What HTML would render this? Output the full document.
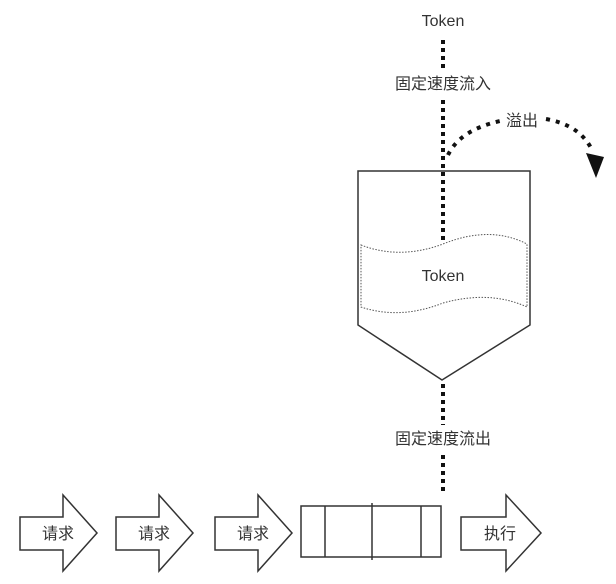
<!DOCTYPE html>
<html><head><meta charset="utf-8"><style>
body{margin:0;background:#fff;}
svg{display:block;}
text{font-family:"Liberation Sans","Noto Sans CJK SC",sans-serif;fill:#333;font-size:16px;}
</style></head><body>
<svg width="616" height="584" viewBox="0 0 616 584">
<rect width="616" height="584" fill="#fff"/>
<text x="443" y="26" text-anchor="middle" font-size="17">Token</text>
<line x1="443" y1="40" x2="443" y2="68" stroke="#111" stroke-width="4" stroke-dasharray="4,4"/>
<text x="443" y="89" text-anchor="middle" font-size="16">固定速度流入</text>
<line x1="443" y1="100" x2="443" y2="243" stroke="#111" stroke-width="4" stroke-dasharray="4,4"/>
<path d="M448 155 Q460 130 500 121" fill="none" stroke="#111" stroke-width="4" stroke-dasharray="4,6"/>
<text x="522" y="126" text-anchor="middle" font-size="16">溢出</text>
<path d="M546 119 Q580 125 592 150" fill="none" stroke="#111" stroke-width="4" stroke-dasharray="4,6"/>
<polygon points="586,153 604,157 596,178" fill="#111"/>
<polygon points="358,171 530,171 530,325 442,380 358,325" fill="none" stroke="#333" stroke-width="1.5"/>
<path d="M361 245 Q400 260 443 244 Q490 225 527 244 L527 307 Q490 290 443 303 Q400 320 361 307 Z" fill="none" stroke="#555" stroke-width="1" stroke-dasharray="1.5,1.5"/>
<text x="443" y="281" text-anchor="middle" font-size="17">Token</text>
<line x1="443" y1="384" x2="443" y2="425" stroke="#111" stroke-width="4" stroke-dasharray="4,4"/>
<text x="443" y="444" text-anchor="middle" font-size="16">固定速度流出</text>
<line x1="443" y1="455" x2="443" y2="494" stroke="#111" stroke-width="4" stroke-dasharray="4,4"/>
<g fill="none" stroke="#333" stroke-width="1.5">
<polygon points="20,517 63,517 63,495 97,533 63,571 63,550 20,550"/>
<polygon points="116,517 159,517 159,495 193,533 159,571 159,550 116,550"/>
<polygon points="215,517 258,517 258,495 292,533 258,571 258,550 215,550"/>
<polygon points="461,517 506,517 506,495 541,533 506,571 506,550 461,550"/>
<rect x="301" y="506" width="140" height="51"/>
<line x1="325" y1="506" x2="325" y2="557"/>
<line x1="372" y1="503" x2="372" y2="560"/>
<line x1="421" y1="506" x2="421" y2="557"/>
</g>
<text x="58" y="539" text-anchor="middle" font-size="17">请求</text>
<text x="154" y="539" text-anchor="middle" font-size="17">请求</text>
<text x="253" y="539" text-anchor="middle" font-size="17">请求</text>
<text x="500" y="539" text-anchor="middle" font-size="17">执行</text>
</svg>
</body></html>
